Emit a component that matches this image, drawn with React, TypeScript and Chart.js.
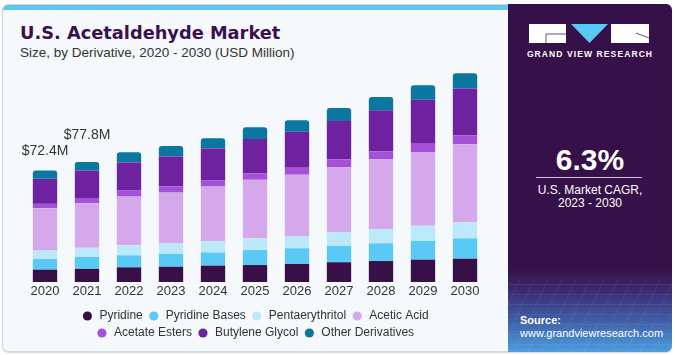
import React, { useEffect, useRef } from "react";
import { Chart, registerables } from "chart.js";

Chart.register(...registerables);

const years = ["2020", "2021", "2022", "2023", "2024", "2025", "2026", "2027", "2028", "2029", "2030"];
const pyridine = [8.0, 8.5, 9.5, 9.9, 10.6, 11.0, 11.7, 12.8, 13.6, 14.5, 15.1];
const pyridineBases = [6.9, 7.7, 7.8, 8.4, 8.6, 9.7, 10.2, 10.6, 11.5, 12.1, 13.2];
const pentaerythritol = [5.6, 6.0, 6.5, 6.7, 7.3, 7.6, 8.0, 8.9, 9.1, 9.9, 10.4];
const aceticAcid = [27.4, 28.9, 31.6, 33.0, 35.4, 38.0, 39.7, 42.1, 45.4, 47.8, 50.7];
const acetateEsters = [2.8, 3.4, 3.9, 4.1, 3.9, 4.3, 4.5, 5.0, 5.0, 5.4, 5.8];
const butyleneGlycol = [16.2, 17.8, 18.3, 19.4, 20.9, 22.2, 23.3, 25.1, 26.8, 28.5, 30.3];
const otherDerivatives = [5.5, 5.5, 6.5, 6.7, 6.5, 7.6, 7.6, 8.4, 8.6, 9.5, 9.9];

const seriesNames = [
  "Pyridine",
  "Pyridine Bases",
  "Pentaerythritol",
  "Acetic Acid",
  "Acetate Esters",
  "Butylene Glycol",
  "Other Derivatives",
];
const seriesValues = [pyridine, pyridineBases, pentaerythritol, aceticAcid, acetateEsters, butyleneGlycol, otherDerivatives];
const seriesColors = ["#380f47", "#5bc9f5", "#bce9fa", "#d4a8eb", "#a450d8", "#6e22a0", "#0b77a0"];

const labelledYears = [0, 1];
const labelLift = [19, 27];

const FONT = '"Liberation Sans", Arial, Helvetica, sans-serif';

const totalLabels = {
  id: "totalLabels",
  afterDatasetsDraw(chart: any) {
    const { ctx } = chart;
    const last = chart.getDatasetMeta(chart.data.datasets.length - 1);
    labelledYears.forEach((idx, k) => {
      const bar = last.data[idx];
      if (!bar) return;
      const total = seriesValues.reduce((s, arr) => s + arr[idx], 0);
      ctx.save();
      ctx.font = `14px ${FONT}`;
      ctx.fillStyle = "#333333";
      ctx.textAlign = "center";
      ctx.textBaseline = "middle";
      ctx.fillText(`$${total.toFixed(1)}M`, bar.x, bar.y - labelLift[k]);
      ctx.restore();
    });
  },
};

function BarChart() {
  const ref = useRef<HTMLCanvasElement | null>(null);
  useEffect(() => {
    if (!ref.current) return;
    Chart.defaults.font.family = FONT;
    const chart = new Chart(ref.current, {
      type: "bar",
      data: {
        labels: years,
        datasets: seriesNames.map((name, i) => ({
          label: name,
          data: seriesValues[i],
          backgroundColor: seriesColors[i],
          borderWidth: 0,
          barPercentage: 0.58,
          categoryPercentage: 1,
          clip: false as any,
          borderRadius: i === seriesNames.length - 1 ? { topLeft: 3, topRight: 3, bottomLeft: 0, bottomRight: 0 } : 0,
        })),
      },
      options: {
        animation: false,
        responsive: false,
        devicePixelRatio: 1,
        layout: { padding: { left: 35, right: 35, top: 60, bottom: 3 } },
        plugins: {
          legend: {
            position: "bottom",
            labels: {
              usePointStyle: true,
              pointStyle: "circle",
              boxWidth: 12,
              boxHeight: 6.5,
              padding: 5,
              color: "#333333",
              font: { size: 12, family: FONT },
            },
          },
          tooltip: { enabled: false },
        },
        scales: {
          x: {
            stacked: true,
            offset: false,
            grid: { display: false, drawTicks: false },
            border: { display: false },
            ticks: { color: "#333333", font: { size: 13, family: FONT }, padding: 2 },
            afterFit: (s: any) => {
              s.height += 3.4;
            },
          },
          y: { stacked: true, display: false, min: 0, max: 144 },
        },
      },
      plugins: [totalLabels],
    } as any);
    return () => chart.destroy();
  }, []);
  return (
    <canvas
      ref={ref}
      width={490}
      height={352}
      style={{ position: "absolute", left: 10, top: 0, width: 490, height: 352 }}
    />
  );
}

export default function App() {
  return (
    <div style={{ position: "fixed", left: 0, top: 0, width: 675, height: 355, background: "#ffffff", overflow: "hidden", fontFamily: FONT }}>
      <div
        style={{
          position: "absolute",
          left: 2,
          top: 4,
          width: 668,
          height: 346,
          background: "#f5f9fc",
          border: "1px solid #d3d8dc",
          borderRadius: 6,
          overflow: "hidden",
          boxShadow: "0 1px 1px rgba(0,0,0,0.15)",
        }}
      >
        <div style={{ position: "absolute", left: 0, top: 0, width: 510, height: 5, background: "#5cc7f0" }} />
      </div>
      <div
        style={{
          position: "absolute",
          left: 20,
          top: 22,
          fontFamily: '"DejaVu Sans", sans-serif',
          fontWeight: 700,
          fontSize: 17.8,
          color: "#3a1150",
          whiteSpace: "nowrap",
          lineHeight: "22px",
        }}
      >
        U.S. Acetaldehyde Market
      </div>
      <div style={{ position: "absolute", left: 20, top: 44, fontSize: 13.5, color: "#333333", whiteSpace: "nowrap", lineHeight: "17px" }}>
        Size, by Derivative, 2020 - 2030 (USD Million)
      </div>
      <BarChart />
      <div
        style={{
          position: "absolute",
          left: 508,
          top: 4,
          width: 164,
          height: 348,
          borderRadius: "0 6px 6px 0",
          background:
            "linear-gradient(to bottom, #361048 0%, #361048 76%, #3a2f74 83%, #3f5ea6 91%, #4d9edf 100%)",
          overflow: "hidden",
        }}
      >
        <svg width={164} height={348} style={{ position: "absolute", left: 0, top: 0 }}>
          <defs>
            <pattern id="mesh" width="14" height="10" patternUnits="userSpaceOnUse" patternTransform="skewX(-25)">
              <path d="M0 0 L14 0 M0 0 L0 10" stroke="rgba(255,255,255,0.13)" strokeWidth="1" fill="none" />
            </pattern>
          </defs>
          <rect x={0} y={275} width={164} height={73} fill="url(#mesh)" />
          <rect x={21} y={20} width={37} height={19} fill="#ffffff" />
          <path d="M38 39 L38 30 L58 30" stroke="#6b4f85" strokeWidth="1" fill="none" />
          <polygon points="63,20 100,20 81.5,39" fill="#5bc9f5" />
          <rect x={103} y={20} width={38} height={19} fill="#ffffff" />
          <path d="M128 29 L141 34" stroke="#6b4f85" strokeWidth="1" fill="none" />
        </svg>
        <div
          style={{
            position: "absolute",
            left: 0,
            width: 164,
            top: 45,
            textAlign: "center",
            color: "#ffffff",
            fontWeight: 700,
            fontSize: 8.5,
            letterSpacing: 1.1,
            lineHeight: "10px",
            whiteSpace: "nowrap",
          }}
        >
          GRAND VIEW RESEARCH
        </div>
        <div
          style={{
            position: "absolute",
            left: 0,
            width: 164,
            top: 138,
            textAlign: "center",
            color: "#ffffff",
            fontWeight: 700,
            fontSize: 30,
            lineHeight: "36px",
          }}
        >
          6.3%
        </div>
        <div style={{ position: "absolute", left: 28, top: 173, width: 106, height: 1, background: "#cdbfdc" }} />
        <div
          style={{
            position: "absolute",
            left: 0,
            width: 164,
            top: 180,
            textAlign: "center",
            color: "#ffffff",
            fontSize: 12,
            lineHeight: "13px",
          }}
        >
          U.S. Market CAGR,
          <br />
          2023 - 2030
        </div>
        <div
          style={{
            position: "absolute",
            left: 12,
            top: 310,
            color: "#ffffff",
            fontSize: 11,
            lineHeight: "13px",
            whiteSpace: "nowrap",
          }}
        >
          <b>Source:</b>
          <br />
          www.grandviewresearch.com
        </div>
      </div>
    </div>
  );
}
